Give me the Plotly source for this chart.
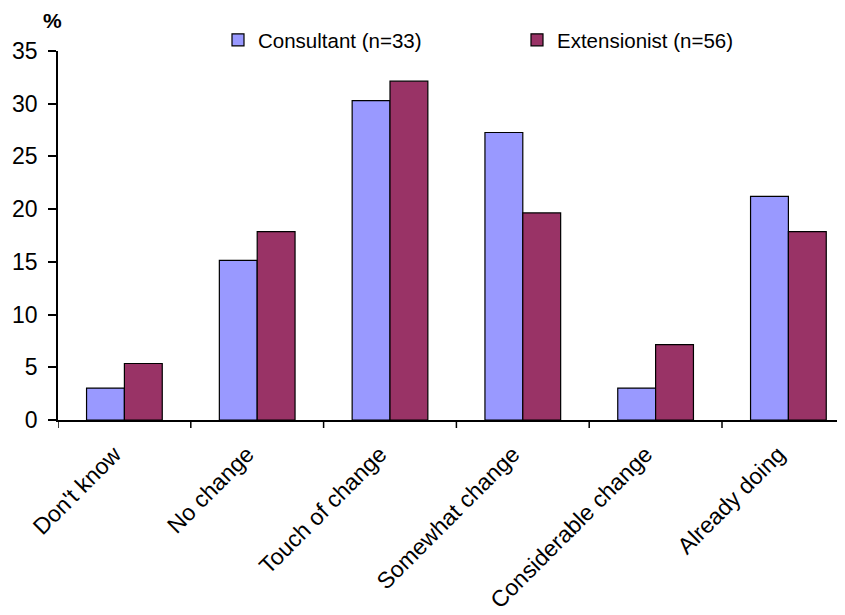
import plotly.graph_objects as go

categories = ["Don't know", "No change", "Touch of change", "Somewhat change",
              "Considerable change", "Already doing"]
consultant = [3.03, 15.15, 30.30, 27.27, 3.03, 21.21]
extensionist = [5.36, 17.86, 32.14, 19.64, 7.14, 17.86]
series_names = ["Consultant (n=33)", "Extensionist (n=56)"]
y_ticks = [0, 5, 10, 15, 20, 25, 30, 35]

FONT = "Liberation Sans, Arial, sans-serif"
OFF = 8  # page body margin
W, H = 845, 607
L, T = 58 - OFF, 51 - OFF
PH = 369
B = H - T - PH
PW = W - L
CAT = 132.8
LABEL_SHIFT = 0.075  # tick labels sit slightly left of category centre

xpos = list(range(len(categories)))

fig = go.Figure()
fig.add_trace(go.Bar(x=xpos, y=consultant, name=series_names[0],
                     marker=dict(color="#9999FF", line=dict(color="black", width=1.2))))
fig.add_trace(go.Bar(x=xpos, y=extensionist, name=series_names[1],
                     marker=dict(color="#993366", line=dict(color="black", width=1.2))))

fig.update_layout(
    width=W, height=H,
    margin=dict(l=L, r=0, t=T, b=B, autoexpand=False),
    paper_bgcolor="white", plot_bgcolor="white",
    barmode="group", bargap=0.43, bargroupgap=0,
    font=dict(family=FONT, color="black"),
    showlegend=True,
    legend=dict(orientation="h", x=(218 - OFF - L) / PW, xanchor="left",
                y=1 + (T - (40 - OFF)) / PH, yanchor="middle",
                font=dict(size=20.5, family=FONT), itemwidth=30,
                entrywidth=254, entrywidthmode="pixels",
                bgcolor="rgba(0,0,0,0)", traceorder="normal"),
    xaxis=dict(range=[-0.5, -0.5 + PW / CAT], showline=True, linecolor="black",
               linewidth=1.5, ticks="", tickangle=-45,
               tickvals=[p - LABEL_SHIFT for p in xpos], ticktext=categories,
               tickfont=dict(size=23, family=FONT), ticklabelstandoff=10,
               showgrid=False, zeroline=False, automargin=False),
    yaxis=dict(range=[0, 35], tickvals=y_ticks, showline=True, linecolor="black",
               linewidth=1.5, ticks="outside", ticklen=8, tickwidth=1.5,
               tickcolor="black", tickfont=dict(size=23, family=FONT),
               showgrid=False, zeroline=False, ticklabelstandoff=6, automargin=False),
    annotations=[dict(text="<b>%</b>", x=(52 - OFF - L) / PW, y=1 + (T - (20 - OFF)) / PH,
                      xref="paper", yref="paper", xanchor="center", yanchor="middle",
                      showarrow=False, font=dict(size=21, family=FONT))],
)

# category boundary ticks on x axis
boundaries = [p - 0.5 for p in xpos] + [xpos[-1] + 0.5]
for b in boundaries:
    fig.add_shape(type="line", xref="x", yref="paper", x0=b, x1=b, y0=0, y1=-8 / PH,
                  line=dict(color="black", width=1.5))

fig.write_html("out.html")
